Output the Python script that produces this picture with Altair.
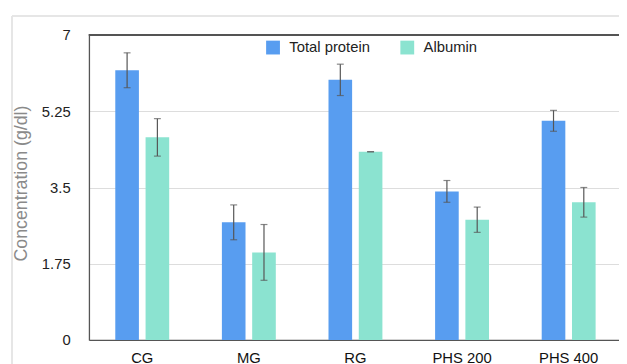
import altair as alt
import pandas as pd

groups = ["CG", "MG", "RG", "PHS 200", "PHS 400"]
series_names = ["Total protein", "Albumin"]
total = [6.19, 2.70, 5.97, 3.41, 5.03]
total_err = [0.40, 0.40, 0.36, 0.25, 0.24]
albumin = [4.65, 2.01, 4.32, 2.76, 3.16]
albumin_err = [0.43, 0.64, 0.0, 0.29, 0.34]
y_ticks = [0, 1.75, 3.5, 5.25, 7]
colors = ["#589DF0", "#8BE3D0"]

rows = []
for g, v, e in zip(groups, total, total_err):
    rows.append({"group": g, "series": "Total protein", "value": v, "lo": v - e, "hi": v + e})
for g, v, e in zip(groups, albumin, albumin_err):
    rows.append({"group": g, "series": "Albumin", "value": v, "lo": v - e, "hi": v + e})
df = pd.DataFrame(rows)

W, H = 537, 309
FONT = "Liberation Sans"

x_enc = alt.X("group:N", sort=groups,
              scale=alt.Scale(domain=groups, range=[0, 540], paddingInner=0, paddingOuter=0),
              axis=alt.Axis(title=None, labelAngle=0, ticks=False, labelPadding=11,
                            labelFontSize=15, labelColor="#111", domainColor="#555",
                            domainWidth=1.3, grid=False, labelFont=FONT))
xoff = alt.XOffset("series:N", sort=series_names,
                   scale=alt.Scale(domain=series_names, paddingInner=0.22, paddingOuter=0.87))
y_scale = alt.Scale(domain=[0, 7], nice=False, zero=True)

bars = alt.Chart(df).mark_bar().encode(
    x=x_enc,
    xOffset=xoff,
    y=alt.Y("value:Q", scale=y_scale,
            axis=alt.Axis(values=y_ticks, labelExpr="'' + datum.value",
                          title="Concentration (g/dl)",
                          ticks=False, labelPadding=19, labelFontSize=15, labelColor="#222",
                          labelFont=FONT, titleFont=FONT, titleFontSize=18,
                          titleFontWeight="normal", titleColor="#8a8a8a",
                          titleX=-68, titleY=150, titleAngle=270, titleAlign="center",
                          titleBaseline="middle", domainColor="#555", domainWidth=1.3,
                          grid=True, gridColor="#dddddd", gridWidth=1.2)),
    color=alt.Color("series:N", sort=series_names,
                    scale=alt.Scale(domain=series_names, range=colors),
                    legend=alt.Legend(title=None, orient="none", direction="horizontal",
                                      legendX=179, legendY=5, symbolType="square",
                                      symbolSize=196, symbolStrokeWidth=0, labelFontSize=15,
                                      labelFont=FONT, labelColor="#222", labelOffset=9,
                                      columnPadding=30, symbolOpacity=1)),
)

err_rule = alt.Chart(df).mark_rule(color="#555", strokeWidth=1.2).encode(
    x=alt.X("group:N", sort=groups), xOffset=xoff,
    y=alt.Y("lo:Q", scale=y_scale), y2="hi:Q")
cap_hi = alt.Chart(df).mark_tick(color="#555", thickness=1.2, size=7).encode(
    x=alt.X("group:N", sort=groups), xOffset=xoff, y=alt.Y("hi:Q", scale=y_scale))
cap_lo = alt.Chart(df).mark_tick(color="#555", thickness=1.2, size=7).encode(
    x=alt.X("group:N", sort=groups), xOffset=xoff, y=alt.Y("lo:Q", scale=y_scale))

top_border = alt.Chart(df).mark_rule(color="#555", strokeWidth=1.3).encode(
    x=alt.value(0), x2=alt.value(W), y=alt.value(0))
frame_h = alt.Chart(df).mark_rule(color="#e6e6e6", strokeWidth=1).encode(
    x=alt.value(-78), x2=alt.value(W), y=alt.value(-19))
frame_v = alt.Chart(df).mark_rule(color="#e6e6e6", strokeWidth=1).encode(
    x=alt.value(-78), y=alt.value(-19), y2=alt.value(H + 30))

chart = alt.layer(frame_h, frame_v, bars, err_rule, cap_hi, cap_lo, top_border).properties(
    width=W, height=H, autosize=alt.AutoSizeParams(type="none"),
    padding={"left": 82, "top": 25, "right": 0, "bottom": 22},
    background="white",
).configure_view(stroke=None).configure(font=FONT)

chart.save("out.html", embed_options={"renderer": "svg", "actions": False})
